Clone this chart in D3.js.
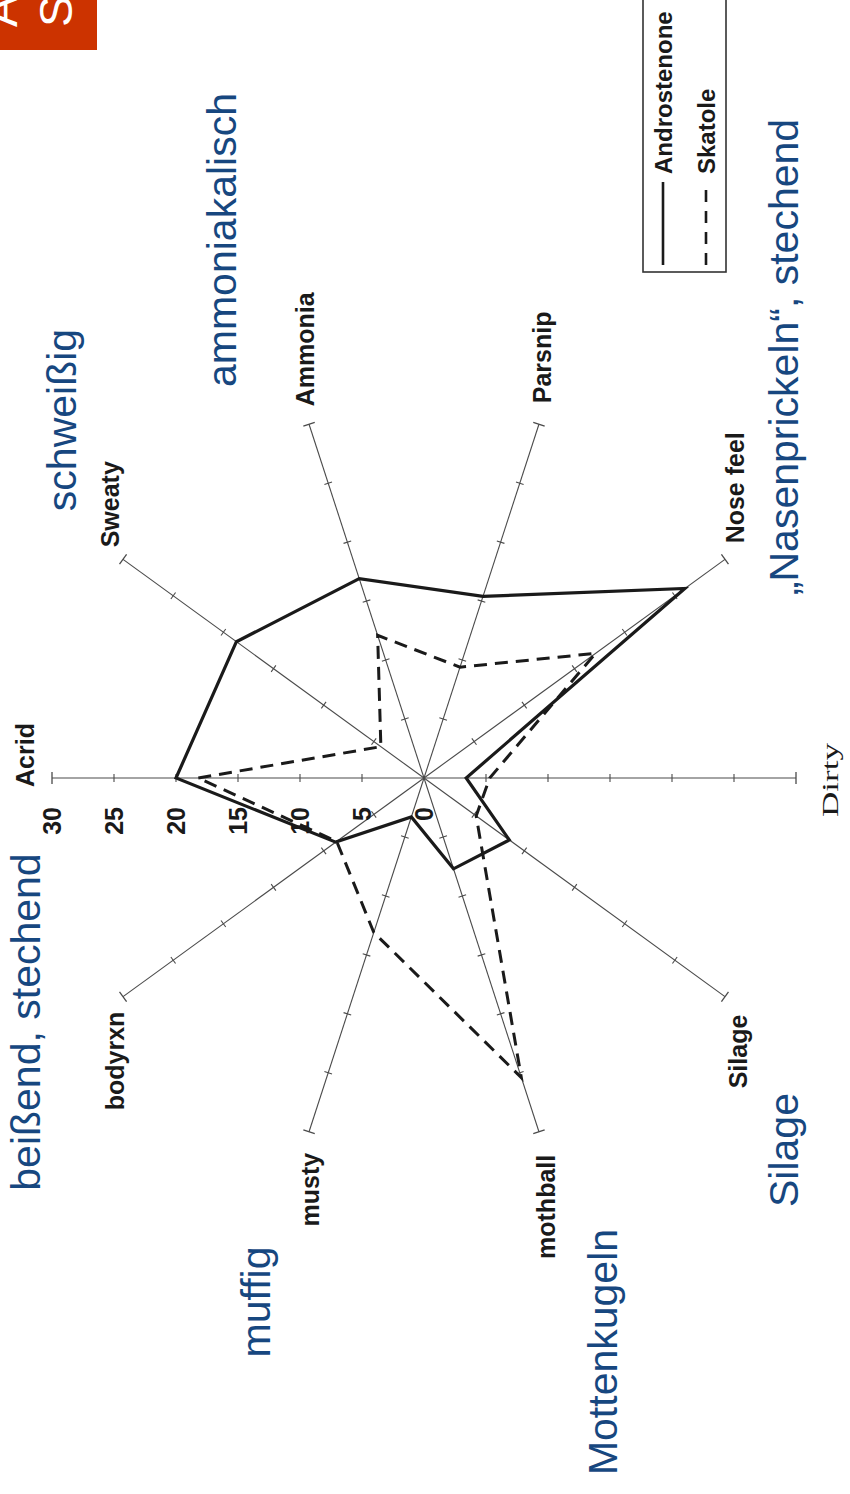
<!DOCTYPE html>
<html>
<head>
<meta charset="utf-8">
<script src="https://cdn.jsdelivr.net/npm/d3@7/dist/d3.min.js"></script>
<style>
  html, body { margin: 0; padding: 0; background: #ffffff; }
  svg { display: block; }
</style>
</head>
<body>
<script>
// Sensory attributes of the radar (clockwise from the top)
const categories = ["Acrid", "Sweaty", "Ammonia", "Parsnip", "Nose feel",
                    "Dirty", "Silage", "mothball", "musty", "bodyrxn"];

// Intensity profiles
const androstenone = [20, 18.7, 16.9, 15.4, 26, 3.4, 8.5, 7.7, 3.3, 8.8];
const skatole      = [18.2, 4.3, 12.1, 9.4, 17.1, 5.3, 5.2, 25.4, 13.1, 8.7];

const seriesNames = ["Androstenone", "Skatole"];

// Scale ticks along every spoke, labelled on the first one
const tickValues = [5, 10, 15, 20, 25];
const tickLabelValues = [30, 25, 20, 15, 10, 5, 0];
const scaleMax = 30;

// German descriptors written around the chart
const germanTerms = ["beißend, stechend", "schweißig", "ammoniakalisch",
                     "„Nasenprickeln“, stechend", "muffig", "Mottenkugeln", "Silage"];

// Header badge letters
const badgeLines = ["A", "S"];

// ---------------------------------------------------------------
const W = 850, H = 1494;
const svg = d3.select("body").append("svg")
  .attr("width", W).attr("height", H)
  .attr("viewBox", `0 0 ${W} ${H}`);

// The whole page is laid out lying on its side: 1494 wide, 850 tall
const g = svg.append("g").attr("transform", `translate(0,${H}) rotate(-90)`);

const cx = 716, cy = 424;
const r = d3.scaleLinear().domain([0, scaleMax]).range([0, 372]);
const n = categories.length;
const angle = d3.scaleLinear().domain([0, n]).range([0, 2 * Math.PI]);

const pt = (i, v) => {
  const a = angle(i);
  return [cx + r(v) * Math.sin(a), cy - r(v) * Math.cos(a)];
};

const ink = "#1a1a1a";
const axisInk = "#4a4a4a";

// Spokes with tick marks
const spokes = g.append("g").attr("class", "spokes");
categories.forEach((c, i) => {
  const a = angle(i);
  const [x1, y1] = pt(i, scaleMax);
  spokes.append("line")
    .attr("x1", cx).attr("y1", cy).attr("x2", x1).attr("y2", y1)
    .attr("stroke", axisInk).attr("stroke-width", 1.1);
  const px = Math.cos(a), py = Math.sin(a);
  tickValues.forEach(v => {
    const [tx, ty] = pt(i, v);
    spokes.append("line")
      .attr("x1", tx - px * 4).attr("y1", ty - py * 4)
      .attr("x2", tx + px * 4).attr("y2", ty + py * 4)
      .attr("stroke", axisInk).attr("stroke-width", 1.1);
  });
  spokes.append("line")
    .attr("x1", x1 - px * 6).attr("y1", y1 - py * 6)
    .attr("x2", x1 + px * 6).attr("y2", y1 + py * 6)
    .attr("stroke", axisInk).attr("stroke-width", 1.3);
});

// Scale labels on the first spoke
g.append("g").selectAll("text")
  .data(tickLabelValues)
  .join("text")
  .attr("x", cx - 29)
  .attr("y", d => cy - r(d))
  .attr("dominant-baseline", "central")
  .attr("text-anchor", "end")
  .attr("font-family", "'Liberation Sans', Arial, sans-serif")
  .attr("font-weight", "bold")
  .attr("font-size", 25)
  .attr("fill", ink)
  .text(d => d);

// Spoke labels
const labelPlacement = [
  { dx: -9,  dy: -18, anchor: "start" },
  { dx: 12,  dy: -4,  anchor: "start" },
  { dx: 18,  dy: 5,   anchor: "start" },
  { dx: 21,  dy: 12,  anchor: "start" },
  { dx: 16,  dy: 19,  anchor: "start" },
  { dx: -2,  dy: 42,  anchor: "middle" },
  { dx: -18, dy: 22,  anchor: "end" },
  { dx: -23, dy: 16,  anchor: "end" },
  { dx: -21, dy: 10,  anchor: "end" },
  { dx: -15, dy: 1,   anchor: "end" }
];
categories.forEach((c, i) => {
  const [ex, ey] = pt(i, scaleMax);
  const p = labelPlacement[i];
  const t = g.append("text")
    .attr("x", ex + p.dx).attr("y", ey + p.dy)
    .attr("text-anchor", p.anchor)
    .attr("fill", ink)
    .text(c);
  if (c === "Dirty") {
    t.attr("font-family", "'Liberation Serif', 'Times New Roman', serif")
     .attr("font-size", 23)
     .attr("textLength", 74).attr("lengthAdjust", "spacingAndGlyphs");
  } else {
    t.attr("font-family", "'Liberation Sans', Arial, sans-serif")
     .attr("font-weight", "bold")
     .attr("font-size", 25);
  }
});

// Profiles
const radial = d3.lineRadial()
  .angle((d, i) => angle(i))
  .radius(d => r(d))
  .curve(d3.curveLinearClosed);

const profiles = g.append("g").attr("transform", `translate(${cx},${cy})`);
profiles.append("path")
  .attr("d", radial(skatole))
  .attr("fill", "none").attr("stroke", ink)
  .attr("stroke-width", 3).attr("stroke-dasharray", "13,8")
  .attr("stroke-linejoin", "miter");
profiles.append("path")
  .attr("d", radial(androstenone))
  .attr("fill", "none").attr("stroke", ink)
  .attr("stroke-width", 3.2)
  .attr("stroke-linejoin", "miter");

// Legend
const legend = g.append("g");
legend.append("rect")
  .attr("x", 1222).attr("y", 643).attr("width", 300).attr("height", 83)
  .attr("fill", "none").attr("stroke", "#333").attr("stroke-width", 1.6);
const legendRows = [
  { y: 663, dash: null },
  { y: 706, dash: "12,9" }
];
seriesNames.forEach((s, i) => {
  const row = legendRows[i];
  legend.append("line")
    .attr("x1", 1229).attr("x2", 1312)
    .attr("y1", row.y).attr("y2", row.y)
    .attr("stroke", ink).attr("stroke-width", 2.6)
    .attr("stroke-dasharray", row.dash);
  legend.append("text")
    .attr("x", 1320).attr("y", row.y + 9)
    .attr("font-family", "'Liberation Sans', Arial, sans-serif")
    .attr("font-weight", "bold").attr("font-size", 24)
    .attr("fill", ink)
    .text(s);
});

// German descriptors
const termPlacement = [
  { x: 472,  y: 40 },
  { x: 1074, y: 76 },
  { x: 1254, y: 236 },
  { x: 1137, y: 798 },
  { x: 192,  y: 270 },
  { x: 142,  y: 617 },
  { x: 344,  y: 798 }
];
g.append("g").selectAll("text")
  .data(germanTerms)
  .join("text")
  .attr("x", (d, i) => termPlacement[i].x)
  .attr("y", (d, i) => termPlacement[i].y)
  .attr("text-anchor", "middle")
  .attr("font-family", "'Liberation Sans', Arial, sans-serif")
  .attr("font-size", 41)
  .attr("fill", "#17477f")
  .text(d => d);

// Header badge
const badge = g.append("g");
badge.append("rect")
  .attr("x", 1444).attr("y", 0).attr("width", 60).attr("height", 97)
  .attr("fill", "#cc3300");
badgeLines.forEach((s, i) => {
  badge.append("text")
    .attr("x", 1467).attr("y", i === 0 ? 17 : 72)
    .attr("font-family", "'Liberation Sans', Arial, sans-serif")
    .attr("font-size", 47)
    .attr("fill", "#ffffff")
    .text(s);
});
</script>
</body>
</html>
